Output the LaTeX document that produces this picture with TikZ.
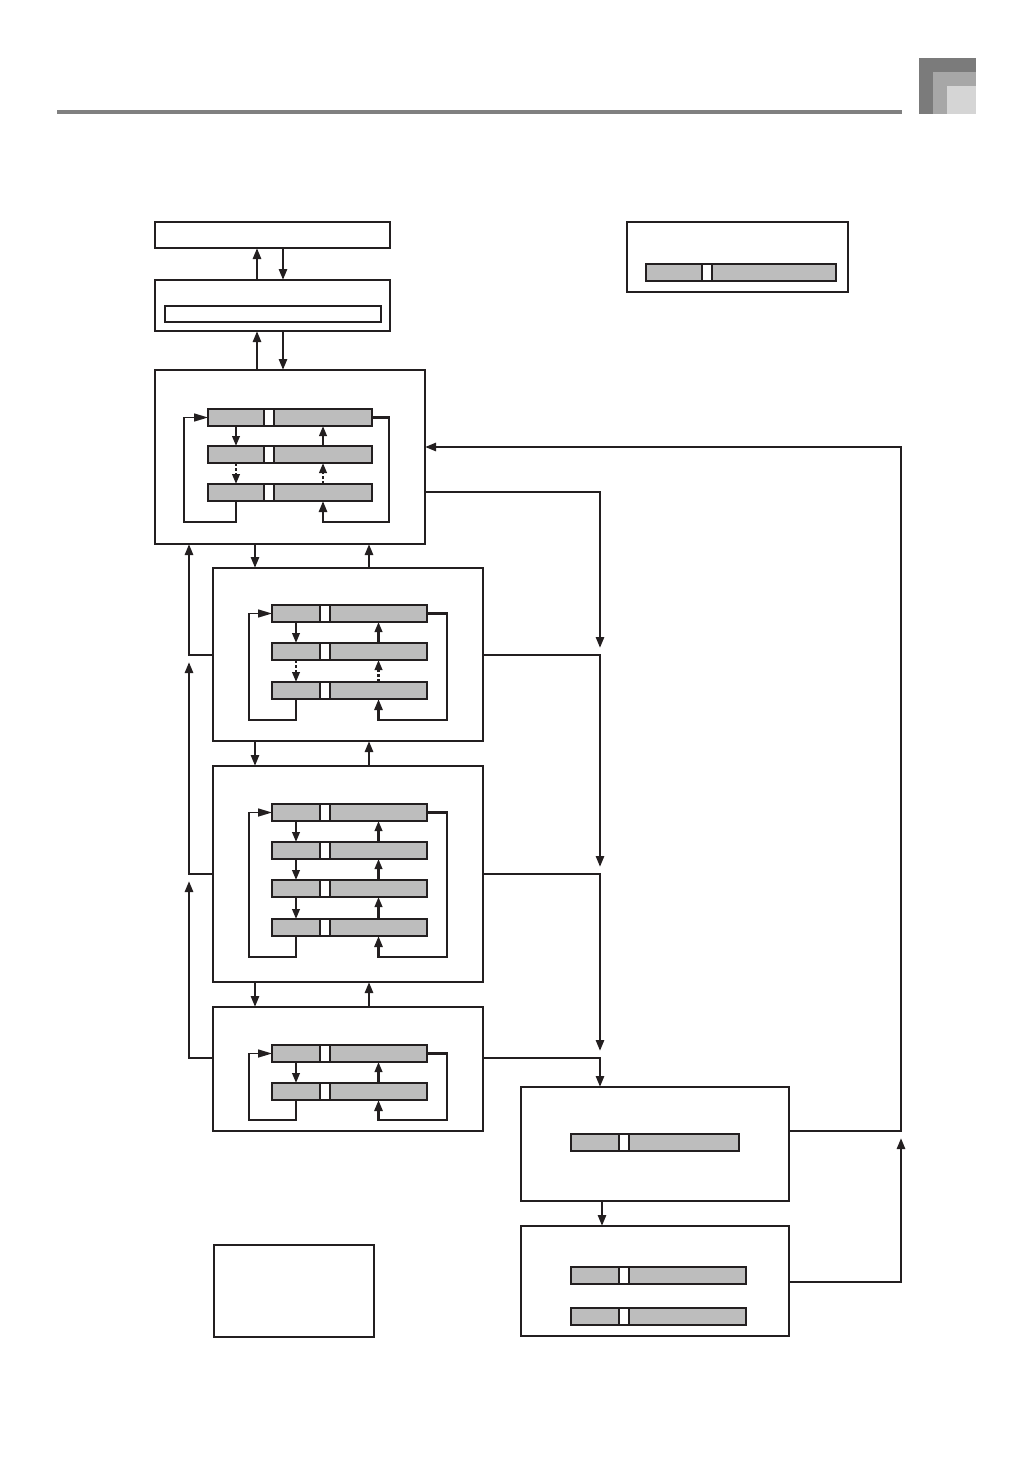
\documentclass[tikz,border=0pt]{standalone}
\usepackage{tikz}
\usepackage{xcolor}
\usetikzlibrary{arrows.meta,positioning}
\definecolor{Ink}{HTML}{231F20}
\definecolor{BarGray}{HTML}{BDBDBD}
\definecolor{RuleGray}{HTML}{808080}
\definecolor{TabDark}{HTML}{7B7B7B}
\definecolor{TabMid}{HTML}{A7A7A7}
\definecolor{TabLight}{HTML}{D5D5D5}
\tikzset{
    panel/.style={
        draw=Ink, line width=1.4pt, anchor=north west,
        inner sep=0pt, outer sep=0pt
    },
    lcdseg/.style={
        draw=Ink, fill=BarGray, line width=1.3pt,
        minimum height=17pt, inner sep=0pt, outer sep=0pt
    },
    lcdcell/.style={lcdseg, fill=white, minimum width=10pt},
    flowarrow/.style={
        -{Triangle[length=11pt,width=8pt]}, line width=2.6pt, draw=Ink
    },
    rowarrow/.style={
        -{Triangle[length=10pt,width=7.5pt]}, line width=2.2pt, draw=Ink
    },
    rowskip/.style={rowarrow, dash pattern=on 3pt off 2pt},
    loopback/.style={
        -{Triangle[length=14pt,width=8pt]}, line width=1.5pt, draw=Ink
    },
    loopup/.style={
        -{Triangle[length=11pt,width=8pt]}, line width=2.6pt, draw=Ink
    },
}
% one display row: name, x, y, left width, right width
\newcommand{\lcdrow}[5]{%
    \node[lcdseg, anchor=north west, minimum width=#4pt] (#1l) at (#2,#3) {};
    \node[lcdcell, right=0pt of #1l] (#1m) {};
    \node[lcdseg, minimum width=#5pt, right=0pt of #1m] (#1r) {};
}

\begin{document}
\begin{tikzpicture}[x=1pt, y=-1pt]
    \useasboundingbox (0,0) rectangle (1032,1458);

    % Page header
    \fill[RuleGray] (57,110) rectangle (902,114);
    \fill[TabDark] (919,58) rectangle (976,114);
    \fill[TabMid] (933,72) rectangle (976,114);
    \fill[TabLight] (947,86) rectangle (976,114);

    % Panels
    \node[panel, minimum width=235pt, minimum height=26pt] (toptitle) at (155,222) {};
    \node[panel, minimum width=235pt, minimum height=51pt] (topselect) at (155,280) {};
    \node[panel, minimum width=216pt, minimum height=16pt] (selectbar) at (165,306) {};
    \node[panel, minimum width=270pt, minimum height=174pt] (menuA) at (155,370) {};
    \node[panel, minimum width=270pt, minimum height=173pt] (menuB) at (213,568) {};
    \node[panel, minimum width=270pt, minimum height=216pt] (menuC) at (213,766) {};
    \node[panel, minimum width=270pt, minimum height=124pt] (menuD) at (213,1007) {};
    \node[panel, minimum width=268pt, minimum height=114pt] (setbox) at (521,1087) {};
    \node[panel, minimum width=268pt, minimum height=110pt] (setlist) at (521,1226) {};
    \node[panel, minimum width=221pt, minimum height=70pt] (infobox) at (627,222) {};
    \node[panel, minimum width=160pt, minimum height=92pt] (notebox) at (214,1245) {};

    % Display rows
    \foreach \i/\y in {1/409,2/446,3/484} {\lcdrow{a\i}{208}{\y}{56}{98}}
    \foreach \i/\y in {1/605,2/643,3/682} {\lcdrow{b\i}{272}{\y}{48}{97}}
    \foreach \i/\y in {1/804,2/842,3/880,4/919} {\lcdrow{c\i}{272}{\y}{48}{97}}
    \foreach \i/\y in {1/1045,2/1083} {\lcdrow{d\i}{272}{\y}{48}{97}}
    \lcdrow{g1}{571}{1134}{48}{110}
    \lcdrow{h1}{571}{1267}{48}{117}
    \lcdrow{h2}{571}{1308}{48}{117}
    \lcdrow{i1}{646}{264}{56}{124}

    % Steps inside the menus
    \draw[rowarrow] (a1l.south) -- (a2l.north);
    \draw[rowskip] (a2l.south) -- (a3l.north);
    \draw[rowarrow] (a2r.north) -- (a1r.south);
    \draw[rowskip] (a3r.north) -- (a2r.south);
    \draw[loopback] (a3l.south) |- (184,522) |- (a1l.west);
    \draw[loopup] (a1r.east) -| (389,522) -| (a3r.south);

    \draw[rowarrow] (b1l.south) -- (b2l.north);
    \draw[rowskip] (b2l.south) -- (b3l.north);
    \draw[rowarrow] (b2r.north) -- (b1r.south);
    \draw[rowskip] (b3r.north) -- (b2r.south);
    \draw[loopback] (b3l.south) |- (249,720) |- (b1l.west);
    \draw[loopup] (b1r.east) -| (447,720) -| (b3r.south);

    \foreach \i/\j in {1/2,2/3,3/4} {
        \draw[rowarrow] (c\i l.south) -- (c\j l.north);
        \draw[rowarrow] (c\j r.north) -- (c\i r.south);
    }
    \draw[loopback] (c4l.south) |- (249,957) |- (c1l.west);
    \draw[loopup] (c1r.east) -| (447,957) -| (c4r.south);

    \draw[rowarrow] (d1l.south) -- (d2l.north);
    \draw[rowarrow] (d2r.north) -- (d1r.south);
    \draw[loopback] (d2l.south) |- (249,1120) |- (d1l.west);
    \draw[loopup] (d1r.east) -| (447,1120) -| (d2r.south);

    % Between the panels
    \draw[flowarrow] (topselect.north -| 257,0) -- (toptitle.south -| 257,0);
    \draw[flowarrow] (toptitle.south -| 283,0) -- (topselect.north -| 283,0);
    \draw[flowarrow] (menuA.north -| 257,0) -- (topselect.south -| 257,0);
    \draw[flowarrow] (topselect.south -| 283,0) -- (menuA.north -| 283,0);
    \draw[flowarrow] (menuA.south -| 255,0) -- (menuB.north -| 255,0);
    \draw[flowarrow] (menuB.north -| 369,0) -- (menuA.south -| 369,0);
    \draw[flowarrow] (menuB.south -| 255,0) -- (menuC.north -| 255,0);
    \draw[flowarrow] (menuC.north -| 369,0) -- (menuB.south -| 369,0);
    \draw[flowarrow] (menuC.south -| 255,0) -- (menuD.north -| 255,0);
    \draw[flowarrow] (menuD.north -| 369,0) -- (menuC.south -| 369,0);
    \draw[flowarrow] (setbox.south -| 602,0) -- (setlist.north -| 602,0);

    % Left return path
    \coordinate (fbB) at (189,655);
    \coordinate (fbC) at (189,874);
    \coordinate (fbD) at (189,1058);
    \draw[flowarrow] (menuB.west |- fbB) -- (fbB) -- (menuA.south -| fbB);
    \draw[flowarrow] (menuC.west |- fbC) -- (fbC) -- ([yshift=-7pt]fbB);
    \draw[flowarrow] (menuD.west |- fbD) -- (fbD) -- ([yshift=-7pt]fbC);

    % Right path down to the settings
    \coordinate (jA) at (600,492);
    \coordinate (jB) at (600,655);
    \coordinate (jC) at (600,874);
    \coordinate (jD) at (600,1058);
    \draw[flowarrow] (menuA.east |- jA) -- (jA) -- ([yshift=7pt]jB);
    \draw[flowarrow] (menuB.east |- jB) -- (jB) -- ([yshift=7pt]jC);
    \draw[flowarrow] (menuC.east |- jC) -- (jC) -- ([yshift=7pt]jD);
    \draw[flowarrow] (menuD.east |- jD) -- (jD) -- (setbox.north -| jD);

    % Back to the first menu
    \coordinate (jG) at (901,1131);
    \coordinate (jH) at (901,1282);
    \draw[flowarrow] (setbox.east |- jG) -- (jG) |- ([yshift=10pt]menuA.east);
    \draw[flowarrow] (setlist.east |- jH) -- (jH) -- ([yshift=-7pt]jG);
\end{tikzpicture}
\end{document}
